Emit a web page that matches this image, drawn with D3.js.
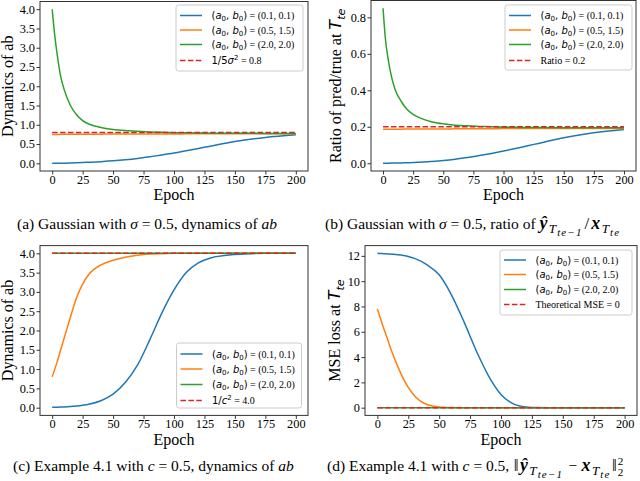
<!DOCTYPE html>
<html>
<head>
<meta charset="utf-8">
<script src="https://cdn.jsdelivr.net/npm/d3@7"></script>
<style>
  body { margin: 0; background: #fff; }
  svg { display: block; }
  text { font-family: "Liberation Serif", "Times New Roman", serif; fill: #000; }
</style>
</head>
<body>
<svg id="fig" width="640" height="481"></svg>
<script>
// epochs sampled along the x axis (shared by every curve)
const epochs = [0, 2, 4, 7, 10, 15, 20, 25, 30, 40, 50, 60, 70, 80, 90, 100, 110, 120, 130, 150, 175, 200];
const xTicks = [0, 25, 50, 75, 100, 125, 150, 175, 200];

// (a) Gaussian, dynamics of ab
const aBlue = [0, 0.001, 0.002, 0.003, 0.004, 0.008, 0.013, 0.02, 0.027, 0.043, 0.063, 0.09, 0.125, 0.17, 0.215, 0.265, 0.325, 0.385, 0.445, 0.565, 0.67, 0.74];
const aOrange = [0.75, 0.75, 0.75, 0.751, 0.752, 0.753, 0.754, 0.755, 0.756, 0.757, 0.758, 0.759, 0.76, 0.761, 0.762, 0.763, 0.764, 0.765, 0.766, 0.767, 0.768, 0.77];
const aGreen = [4.0, 3.35, 2.85, 2.25, 1.9, 1.5, 1.26, 1.11, 1.02, 0.93, 0.88, 0.85, 0.83, 0.815, 0.805, 0.795, 0.79, 0.785, 0.782, 0.779, 0.776, 0.774];
const aRef = 0.8;
const yTicksA = [0, 0.5, 1, 1.5, 2, 2.5, 3, 3.5, 4];

// (b) Gaussian, ratio pred/true
const bBlue = [0, 0.0002, 0.0004, 0.0007, 0.001, 0.002, 0.003, 0.004, 0.006, 0.01, 0.015, 0.022, 0.031, 0.042, 0.054, 0.067, 0.081, 0.096, 0.11, 0.14, 0.167, 0.185];
const bOrange = [0.187, 0.187, 0.187, 0.187, 0.187, 0.187, 0.188, 0.188, 0.188, 0.188, 0.188, 0.189, 0.189, 0.189, 0.189, 0.19, 0.19, 0.19, 0.19, 0.19, 0.191, 0.191];
const bGreen = [0.85, 0.68, 0.58, 0.475, 0.405, 0.34, 0.295, 0.268, 0.25, 0.228, 0.216, 0.209, 0.205, 0.202, 0.2, 0.198, 0.197, 0.196, 0.196, 0.195, 0.194, 0.194];
const bRef = 0.2;
const yTicksB = [0, 0.2, 0.4, 0.6, 0.8];

// (c) Example 4.1, dynamics of ab
const cBlue = [0.01, 0.012, 0.013, 0.016, 0.02, 0.03, 0.045, 0.065, 0.09, 0.18, 0.35, 0.65, 1.1, 1.75, 2.45, 3.05, 3.5, 3.75, 3.88, 3.97, 4.0, 4.0];
const cOrange = [0.8, 0.98, 1.18, 1.5, 1.82, 2.35, 2.85, 3.2, 3.45, 3.7, 3.82, 3.9, 3.95, 3.98, 3.99, 4.0, 4.0, 4.0, 4.0, 4.0, 4.0, 4.0];
const cGreen = [4.0, 4.0, 4.0, 4.0, 4.0, 4.0, 4.0, 4.0, 4.0, 4.0, 4.0, 4.0, 4.0, 4.0, 4.0, 4.0, 4.0, 4.0, 4.0, 4.0, 4.0, 4.0];
const cRef = 4.0;
const yTicksC = [0, 0.5, 1, 1.5, 2, 2.5, 3, 3.5, 4];

// (d) Example 4.1, MSE loss
const dBlue = [12.2, 12.19, 12.18, 12.16, 12.15, 12.1, 12.05, 11.95, 11.8, 11.3, 10.5, 8.9, 6.8, 4.5, 2.5, 1.05, 0.3, 0.06, 0.01, 0, 0, 0];
const dOrange = [7.8, 7.2, 6.6, 5.75, 4.9, 3.6, 2.5, 1.6, 0.95, 0.25, 0.05, 0.01, 0, 0, 0, 0, 0, 0, 0, 0, 0, 0];
const dGreen = [0, 0, 0, 0, 0, 0, 0, 0, 0, 0, 0, 0, 0, 0, 0, 0, 0, 0, 0, 0, 0, 0];
const dRef = 0;
const yTicksD = [0, 2, 4, 6, 8, 10, 12];

const initLabels = ['0.1, 0.1', '0.5, 1.5', '2.0, 2.0'];
const colors = ['#1f77b4', '#ff7f0e', '#2ca02c', '#d62728'];

const SANS = '"DejaVu Sans", sans-serif';
const SERIF = '"Liberation Serif", "Times New Roman", serif';

const svg = d3.select('#fig');

// write a run of styled pieces; sh = baseline shift (em of base size, + is down), sc = size scale
function rich(textSel, parts, size) {
  let cur = 0;
  parts.forEach((p) => {
    const sh = (p.sh || 0) * size;
    const ts = textSel.append('tspan')
      .attr('dy', sh - cur)
      .style('font-family', p.fam === 'sans' ? SANS : SERIF)
      .style('font-size', (size * (p.sc || 1)) + 'px')
      .style('font-style', p.it ? 'italic' : 'normal')
      .style('font-weight', p.bold ? 'bold' : 'normal')
      .text(p.t);
    if (p.dx) ts.attr('dx', p.dx);
    if (p.ls) ts.style('letter-spacing', p.ls + 'px');
    cur = sh;
  });
}

function initParts(v) {
  return [
    { t: '(', fam: 'sans' }, { t: 'a', fam: 'sans', it: 1 }, { t: '0', fam: 'sans', sh: 0.22, sc: 0.7 },
    { t: ', ', fam: 'sans' }, { t: 'b', fam: 'sans', it: 1 }, { t: '0', fam: 'sans', sh: 0.22, sc: 0.7 },
    { t: ')', fam: 'sans' }, { t: ' = (' + v + ')' },
  ];
}

// subscript pieces for T_{te-1} and T_{te}
function tSub(rest) {
  return [
    { t: 'T', it: 1, sh: 0.25, sc: 0.85, dx: 1.5, ls: 1 },
    { t: rest, it: 1, sh: 0.44, sc: 0.7, ls: 1.2 },
  ];
}

const panels = [
  {
    left: 40, right: 308, top: 1.5, bottom: 171, yDomain: [-0.2, 4.2], yTicks: yTicksA, fmt: d3.format('.1f'),
    series: [aBlue, aOrange, aGreen], ref: aRef,
    legend: { x: 176, y: 5, w: 127, h: 66, rows: [10.5, 25, 39.5, 55.5] },
    refLabel: [{ t: '1/5', fam: 'sans' }, { t: 'σ', fam: 'sans', it: 1 }, { t: '2', fam: 'sans', sh: -0.38, sc: 0.7 }, { t: ' = 0.8' }],
    ylab: [{ t: 'Dynamics of ab' }], ylabX: 12.5,
    caption: [{ t: '(a) Gaussian with ' }, { t: 'σ', it: 1 }, { t: ' = 0.5, dynamics of ' }, { t: 'ab', it: 1 }],
    capX: 17, capY: 229, xlabY: 200,
  },
  {
    left: 371, right: 636, top: 0.5, bottom: 171, yDomain: [-0.0425, 0.8925], yTicks: yTicksB, fmt: d3.format('.1f'),
    series: [bBlue, bOrange, bGreen], ref: bRef,
    legend: { x: 505, y: 5, w: 127, h: 65, rows: [10.5, 25, 39.5, 55.5] },
    refLabel: [{ t: 'Ratio = 0.2' }],
    ylab: [{ t: 'Ratio of pred/true at ' }, { t: 'T', fam: 'sans', it: 1 }, { t: 'te', fam: 'sans', it: 1, sh: 0.22, sc: 0.7 }], ylabX: 341,
    caption: [{ t: '(b) Gaussian with ' }, { t: 'σ', it: 1 }, { t: ' = 0.5, ratio of ' },
      { t: 'ŷ', it: 1, bold: 1, sc: 1.15 }, ...tSub('te−1'),
      { t: '/', dx: 2, sc: 1.1 }, { t: 'x', it: 1, bold: 1, sc: 1.15, dx: 2 }, ...tSub('te')],
    capX: 325, capY: 229, xlabY: 200,
  },
  {
    left: 40, right: 308, top: 245.6, bottom: 415.4, yDomain: [-0.2, 4.2], yTicks: yTicksC, fmt: d3.format('.1f'),
    series: [cBlue, cOrange, cGreen], ref: cRef,
    legend: { x: 176.5, y: 343, w: 125, h: 65, rows: [11, 26, 41.5, 57.5] },
    refLabel: [{ t: '1/', fam: 'sans' }, { t: 'c', fam: 'sans', it: 1 }, { t: '2', fam: 'sans', sh: -0.38, sc: 0.7 }, { t: ' = 4.0' }],
    ylab: [{ t: 'Dynamics of ab' }], ylabX: 12.5,
    caption: [{ t: '(c) Example 4.1 with ' }, { t: 'c', it: 1 }, { t: ' = 0.5, dynamics of ' }, { t: 'ab', it: 1 }],
    capX: 13, capY: 471, xlabY: 445,
  },
  {
    left: 365, right: 637, top: 245.6, bottom: 415.4, yDomain: [-0.61, 12.81], yTicks: yTicksD, fmt: d3.format('d'),
    series: [dBlue, dOrange, dGreen], ref: dRef,
    legend: { x: 500, y: 250, w: 132, h: 65, rows: [10, 24.5, 39.5, 54.5] },
    refLabel: [{ t: 'Theoretical MSE = 0' }],
    ylab: [{ t: 'MSE loss at ' }, { t: 'T', fam: 'sans', it: 1 }, { t: 'te', fam: 'sans', it: 1, sh: 0.22, sc: 0.7 }], ylabX: 340,
    caption: [{ t: '(d) Example 4.1 with ' }, { t: 'c', it: 1 }, { t: ' = 0.5, ' }, { t: '‖', dx: 0.5, sc: 1.1 },
      { t: 'ŷ', it: 1, bold: 1, sc: 1.15, dx: 1.5 }, ...tSub('te−1'),
      { t: ' − ', dx: 1.5 }, { t: 'x', it: 1, bold: 1, sc: 1.15, dx: 0.5 }, ...tSub('te'),
      { t: '‖', dx: 1.5, sc: 1.1 }, { t: '2', sh: -0.4, sc: 0.72, dx: 1 }, { t: '2', sh: 0.3, sc: 0.72, dx: -5.6 }],
    capX: 327, capY: 471, xlabY: 445,
  },
];

function drawPanel(p) {
  const g = svg.append('g');
  const x = d3.scaleLinear().domain([-10, 210]).range([p.left, p.right]);
  const y = d3.scaleLinear().domain(p.yDomain).range([p.bottom, p.top]);

  const clipId = 'clip' + Math.round(p.left) + Math.round(p.top);
  g.append('clipPath').attr('id', clipId)
    .append('rect').attr('x', p.left).attr('y', p.top)
    .attr('width', p.right - p.left).attr('height', p.bottom - p.top);

  const line = d3.line()
    .x((d, i) => x(epochs[i]))
    .y((d) => y(d))
    .curve(d3.curveMonotoneX);

  const plot = g.append('g').attr('clip-path', `url(#${clipId})`);
  p.series.forEach((vals, i) => {
    plot.append('path').datum(vals)
      .attr('d', line)
      .attr('fill', 'none')
      .attr('stroke', colors[i])
      .attr('stroke-width', 1.5);
  });
  // theoretical value, dashed red
  plot.append('line')
    .attr('x1', x(epochs[0])).attr('x2', x(epochs[epochs.length - 1]))
    .attr('y1', y(p.ref)).attr('y2', y(p.ref))
    .attr('stroke', colors[3]).attr('stroke-width', 1.5)
    .attr('stroke-dasharray', '5.5,2.4');

  // axes
  const xAxis = d3.axisBottom(x).tickValues(xTicks).tickSize(3.5).tickPadding(0.5);
  const yAxis = d3.axisLeft(y).tickValues(p.yTicks).tickSize(3.5).tickPadding(1.5).tickFormat(p.fmt);

  const gx = g.append('g').attr('transform', `translate(0,${p.bottom})`).call(xAxis);
  const gy = g.append('g').attr('transform', `translate(${p.left},0)`).call(yAxis);
  [gx, gy].forEach((ax) => {
    ax.select('.domain').remove();
    ax.selectAll('line').attr('stroke', '#333');
    ax.selectAll('text').style('font-family', SERIF).style('font-size', '12.3px').attr('fill', '#000');
  });

  // frame
  g.append('rect')
    .attr('x', p.left).attr('y', p.top)
    .attr('width', p.right - p.left).attr('height', p.bottom - p.top)
    .attr('fill', 'none').attr('stroke', '#333').attr('stroke-width', 1);

  // labels
  g.append('text')
    .attr('x', (p.left + p.right) / 2).attr('y', p.xlabY)
    .attr('text-anchor', 'middle').style('font-size', '16px')
    .text('Epoch');

  const yl = g.append('text')
    .attr('transform', `translate(${p.ylabX},${(p.top + p.bottom) / 2}) rotate(-90)`)
    .attr('text-anchor', 'middle');
  rich(yl, p.ylab, 16);

  const cap = g.append('text').attr('x', p.capX).attr('y', p.capY);
  rich(cap, p.caption, 15.5);

  // legend
  const L = p.legend;
  const lg = g.append('g').attr('transform', `translate(${L.x},${L.y})`);
  lg.append('rect')
    .attr('width', L.w).attr('height', L.h).attr('rx', 2.5)
    .attr('fill', '#fff').attr('fill-opacity', 0.8)
    .attr('stroke', '#ccc').attr('stroke-width', 1);
  const labels = initLabels.map(initParts).concat([p.refLabel]);
  labels.forEach((parts, i) => {
    const ry = L.rows[i];
    lg.append('line')
      .attr('x1', 4).attr('x2', 26).attr('y1', ry).attr('y2', ry)
      .attr('stroke', colors[i]).attr('stroke-width', 1.5)
      .attr('stroke-dasharray', i === 3 ? '5.5,2.4' : null);
    const t = lg.append('text').attr('x', 35.5).attr('y', ry + 3.5);
    rich(t, parts, 10);
  });
}

panels.forEach(drawPanel);
</script>
</body>
</html>
